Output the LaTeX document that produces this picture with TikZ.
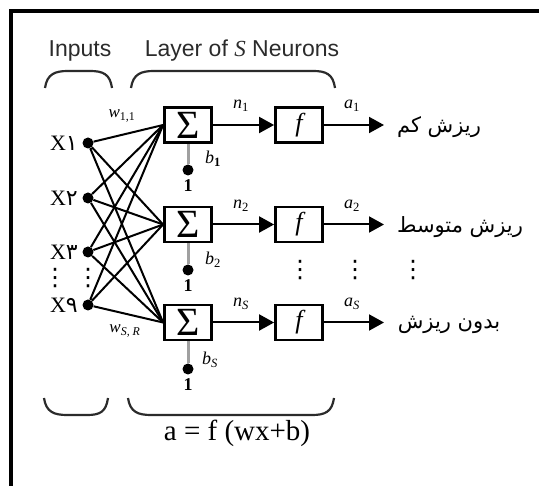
\documentclass[tikz,border=0pt]{standalone}
\usepackage{fontspec}
\setmainfont{Liberation Serif}
\setsansfont{Liberation Sans}
\newfontfamily\arabicfont[Script=Arabic]{DejaVu Sans}
\TeXXeTstate=1
\usetikzlibrary{arrows.meta}
\definecolor{InkGray}{HTML}{2B2B2B}
\definecolor{BiasGray}{HTML}{A0A0A0}

\tikzset{
  sumbox/.style={draw, line width=2.8pt, minimum width=47pt, minimum height=35pt, inner sep=0pt, font=\fontsize{40}{40}\selectfont},
  actbox/.style={draw, line width=2.8pt, minimum width=47pt, minimum height=35pt, inner sep=0pt, font=\fontsize{26}{26}\selectfont\itshape},
  indot/.style={circle, fill, inner sep=0pt, minimum size=11pt},
  wire/.style={line width=2pt},
  sig/.style={wire, -{Triangle[length=15pt, width=16pt]}},
  biasline/.style={line width=3pt, color=BiasGray},
  brace/.style={line width=2.2pt, color=InkGray},
  title/.style={font=\fontsize{23}{23}\selectfont\sffamily, color=InkGray},
  inlab/.style={anchor=east, inner sep=0pt, font=\fontsize{22}{22}\selectfont},
  small/.style={inner sep=0pt, font=\fontsize{18}{18}\selectfont},
  dotcol/.style={inner sep=0pt, font=\fontsize{24}{24}\selectfont\arabicfont},
  outlab/.style={inner sep=0pt, font=\fontsize{21}{21}\selectfont\arabicfont},
}

\begin{document}
\begin{tikzpicture}[x=1pt, y=-1pt]
  \useasboundingbox (0,0) rectangle (539,486);

  % Frame
  \draw[line width=3.5pt] (11,486) -- (11,11) -- (539,11);

  % Titles
  \node[title] (ttlin) at (80,51) {Inputs};
  \node[title] (ttllay) at (242,51) {Layer of \textit{\rmfamily S} Neurons};

  % Braces
  \draw[brace] (45,88) .. controls (47,74) and (55,71) .. (68,71) -- (90,71) .. controls (103,71) and (110,74) .. (112,88);
  \draw[brace] (131,88) .. controls (133,74) and (141,71) .. (154,71) -- (313,71) .. controls (326,71) and (333,74) .. (335,88);
  \draw[brace] (44,398) .. controls (46,412) and (54,415) .. (67,415) -- (87,415) .. controls (100,415) and (106,412) .. (108,398);
  \draw[brace] (128,398) .. controls (130,412) and (138,415) .. (151,415) -- (312,415) .. controls (325,415) and (332,412) .. (334,398);

  % Inputs
  \node[indot] (x1) at (88,143) {};
  \node[indot] (x2) at (88,198) {};
  \node[indot] (x3) at (88,252) {};
  \node[indot] (x9) at (88,305) {};
  \node[inlab] (lx1) at (78,143) {X{\arabicfont ۱}};
  \node[inlab] (lx2) at (78,198) {X{\arabicfont ۲}};
  \node[inlab] (lx3) at (78,252) {X{\arabicfont ۳}};
  \node[inlab] (lx9) at (78,305) {X{\arabicfont ۹}};
  \node[dotcol] (vdl) at (55,278) {⋮};
  \node[dotcol] (vdr) at (88,278) {⋮};

  % Summing junctions
  \node[sumbox] (s1) at (188,125) {Σ};
  \node[sumbox] (s2) at (188,224.5) {Σ};
  \node[sumbox] (s3) at (188,322.5) {Σ};

  % Weights
  \draw[wire] (x1) -- (s1.west) (x1) -- (s2.west) (x1) -- (s3.west);
  \draw[wire] (x2) -- (s1.west) (x2) -- (s2.west) (x2) -- (s3.west);
  \draw[wire] (x3) -- (s1.west) (x3) -- (s2.west) (x3) -- (s3.west);
  \draw[wire] (x9) -- (s1.west) (x9) -- (s2.west) (x9) -- (s3.west);
  \node[small, font=\fontsize{17}{17}\selectfont] (w11) at (122,116) {\textit{w}\textsubscript{1,1}};
  \node[small, font=\fontsize{17}{17}\selectfont] (wsr) at (125,331) {\textit{w}\textsubscript{\textit{S, R}}};

  % Biases
  \node[indot] (one1) at (188,170) {};
  \node[indot] (one2) at (188,270) {};
  \node[indot] (one3) at (188,369) {};
  \draw[biasline] (s1.south -| one1) -- (one1);
  \draw[biasline] (s2.south -| one2) -- (one2);
  \draw[biasline] (s3.south -| one3) -- (one3);
  \node[small, font=\fontsize{18}{18}\selectfont\bfseries] (u1) at (188,186) {1};
  \node[small, font=\fontsize{18}{18}\selectfont\bfseries] (u2) at (188,286) {1};
  \node[small, font=\fontsize{18}{18}\selectfont\bfseries] (u3) at (188,385) {1};
  \node[small] (b1) at (213,159) {\textit{b}\textsubscript{\bfseries 1}};
  \node[small] (b2) at (213,260) {\textit{b}\textsubscript{2}};
  \node[small] (bs) at (210,360) {\textit{b}\textsubscript{\textit{S}}};

  % Transfer functions
  \node[actbox] (f1) at (299,125) {f};
  \node[actbox] (f2) at (299,224.5) {f};
  \node[actbox] (f3) at (299,322.5) {f};
  \draw[sig] (s1) -- (f1);
  \draw[sig] (s2) -- (f2);
  \draw[sig] (s3) -- (f3);
  \node[small] (n1) at (241,106) {\textit{n}\textsubscript{1}};
  \node[small] (n2) at (241,206) {\textit{n}\textsubscript{2}};
  \node[small] (ns) at (241,304) {\textit{n}\textsubscript{\textit{S}}};

  % Outputs
  \coordinate (o1) at (384,125);
  \coordinate (o2) at (384,224.5);
  \coordinate (o3) at (384,322.5);
  \draw[sig] (f1) -- (o1);
  \draw[sig] (f2) -- (o2);
  \draw[sig] (f3) -- (o3);
  \node[small] (a1) at (352,106) {\textit{a}\textsubscript{1}};
  \node[small] (a2) at (352,206) {\textit{a}\textsubscript{2}};
  \node[small] (as) at (352,304) {\textit{a}\textsubscript{\textit{S}}};
  \node[outlab] (c1) at (439,127) {\beginR ریزش کم\endR};
  \node[outlab] (c2) at (460,227) {\beginR ریزش متوسط\endR};
  \node[outlab] (c3) at (449,325) {\beginR بدون ریزش\endR};
  \node[dotcol] (vd1) at (300,270) {⋮};
  \node[dotcol] (vd2) at (355,270) {⋮};
  \node[dotcol] (vd3) at (413,270) {⋮};

  % Output rule
  \node[font=\fontsize{29}{29}\selectfont] (rule) at (237,433) {a = f (wx+b)};
\end{tikzpicture}
\end{document}
